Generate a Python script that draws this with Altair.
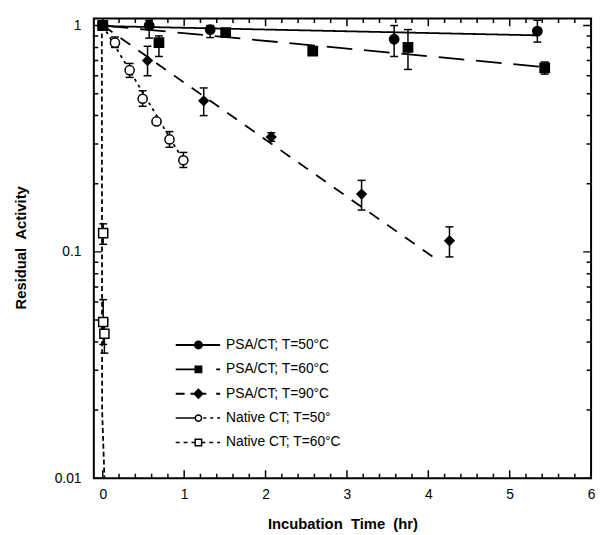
import altair as alt
import pandas as pd

# ---------------- data ----------------
series = ["PSA/CT; T=50°C", "PSA/CT; T=60°C", "PSA/CT; T=90°C",
          "Native CT; T=50°", "Native CT; T=60°C"]

psa50_t = [0.0, 0.57, 1.32, 3.58, 5.34]
psa50_a = [1.0, 1.0, 0.96, 0.87, 0.945]
psa50_lo = [None, 0.88, 0.885, 0.73, 0.845]
psa50_hi = [None, 1.055, 1.0, 1.0, 1.055]

psa60_t = [0.0, 0.69, 1.51, 2.58, 3.75, 5.43]
psa60_a = [1.0, 0.84, 0.93, 0.77, 0.80, 0.65]
psa60_lo = [None, 0.73, None, None, 0.64, 0.61]
psa60_hi = [None, 0.90, None, None, 0.96, 0.69]

psa90_t = [0.0, 0.55, 1.24, 2.07, 3.18, 4.26]
psa90_a = [1.0, 0.70, 0.465, 0.322, 0.18, 0.112]
psa90_lo = [None, 0.60, 0.40, 0.308, 0.153, 0.095]
psa90_hi = [None, 0.81, 0.53, 0.336, 0.207, 0.129]

nat50_t = [0.0, 0.15, 0.33, 0.49, 0.66, 0.82, 0.99]
nat50_a = [1.0, 0.84, 0.635, 0.475, 0.377, 0.314, 0.254]
nat50_lo = [None, 0.80, 0.59, 0.44, None, 0.29, 0.236]
nat50_hi = [None, 0.89, 0.68, 0.515, None, 0.34, 0.275]

nat60_t = [0.0, 0.005, 0.005, 0.02]
nat60_a = [1.0, 0.121, 0.049, 0.0435]
nat60_lo = [None, 0.108, 0.039, 0.0357]
nat60_hi = [None, 0.133, 0.0615, 0.05]

# fitted decay curves
fit_psa50_t = [0.0, 5.34]
fit_psa50_a = [0.995, 0.905]
fit_psa60_t = [0.0, 5.43]
fit_psa60_a = [1.0, 0.655]
fit_psa90_t = [0.0, 4.15]
fit_psa90_a = [1.0, 0.09]
fit_nat50_t = [0.0, 1.0]
fit_nat50_a = [1.0, 0.25]
fit_nat60_t = [-0.012, -0.008, 0.02]
fit_nat60_a = [1.0, 0.02, 0.0101]

# axis ranges and tick lists
x_range = [-0.11, 6]
y_range = [0.01, 1.075]
x_major = [0, 1, 2, 3, 4, 5, 6]
x_minor = [0.2, 0.4, 0.6, 0.8, 1.2, 1.4, 1.6, 1.8, 2.2, 2.4, 2.6, 2.8,
           3.2, 3.4, 3.6, 3.8, 4.2, 4.4, 4.6, 4.8, 5.2, 5.4, 5.6, 5.8]
y_major = [0.01, 0.1, 1]
y_minor = [0.02, 0.03, 0.04, 0.05, 0.06, 0.07, 0.08, 0.09,
           0.2, 0.3, 0.4, 0.5, 0.6, 0.7, 0.8, 0.9]

# ---------------- styles ----------------
dashes = [[1, 0], [26, 12], [12, 10], [3, 4], [5, 3]]
marker_shapes = ["circle", "square", "diamond", "circle", "square"]
marker_fills = ["black", "black", "black", "white", "white"]
marker_sizes = [90, 85, 120, 50, 50]
tick_sizes = [16, 9]

# legend glyphs: line + marker drawn as filled outlines (open markers as rings)
legend_paths = [
    "M-4.6,-0.2H4.4V0.2H-4.6Z"
    "M-0.9,0A0.9,0.9,0,1,1,0.9,0A0.9,0.9,0,1,1,-0.9,0Z",
    "M-4.6,-0.2H0V0.2H-4.6Z"
    "M-0.8,-0.8H0.8V0.8H-0.8Z"
    "M3.6,-0.2H4.4V0.2H3.6Z",
    "M-4.6,-0.2H-2.8V0.2H-4.6Z"
    "M-1.6,-0.2H1.6V0.2H-1.6Z"
    "M3.6,-0.2H4.4V0.2H3.6Z"
    "M-1.1,0L0,-1.1L1.1,0L0,1.1Z",
    "M-4.6,-0.15H-0.75V0.15H-4.6Z"
    "M-0.8,0A0.8,0.8,0,1,1,0.8,0A0.8,0.8,0,1,1,-0.8,0Z"
    "M-0.5,0A0.5,0.5,0,1,0,0.5,0A0.5,0.5,0,1,0,-0.5,0Z"
    "M1.0,-0.15H1.6V0.15H1.0Z"
    "M2.4,-0.15H3.0V0.15H2.4Z"
    "M3.8,-0.15H4.4V0.15H3.8Z",
    "M-4.6,-0.15H-3.8V0.15H-4.6Z"
    "M-3.0,-0.15H-2.2V0.15H-3.0Z"
    "M-1.4,-0.15H-0.8V0.15H-1.4Z"
    "M-0.8,-0.8H0.8V0.8H-0.8Z"
    "M-0.5,-0.5V0.5H0.5V-0.5Z"
    "M0.8,-0.15H1.4V0.15H0.8Z"
    "M2.2,-0.15H3.0V0.15H2.2Z"
    "M3.8,-0.15H4.4V0.15H3.8Z",
]

# ---------------- tables ----------------
pts_src = [
    (series[3], nat50_t, nat50_a, nat50_lo, nat50_hi),
    (series[4], nat60_t, nat60_a, nat60_lo, nat60_hi),
    (series[0], psa50_t, psa50_a, psa50_lo, psa50_hi),
    (series[1], psa60_t, psa60_a, psa60_lo, psa60_hi),
    (series[2], psa90_t, psa90_a, psa90_lo, psa90_hi),
]
rows = []
for name, ts, as_, los, his in pts_src:
    for t, a, lo, hi in zip(ts, as_, los, his):
        rows.append({"series": name, "t": t, "a": a, "lo": lo, "hi": hi})
pts = pd.DataFrame(rows)

fit_src = [
    (series[0], fit_psa50_t, fit_psa50_a),
    (series[1], fit_psa60_t, fit_psa60_a),
    (series[2], fit_psa90_t, fit_psa90_a),
    (series[3], fit_nat50_t, fit_nat50_a),
    (series[4], fit_nat60_t, fit_nat60_a),
]
frows = []
for name, ts, as_ in fit_src:
    for k, (t, a) in enumerate(zip(ts, as_)):
        frows.append({"series": name, "t": t, "a": a, "k": k})
fits = pd.DataFrame(frows)

legend_df = pts[pts["t"] == 0.0].copy()

# tick marks on all four sides of the frame (half of each is clipped away)
xt_rows = []
for kind, vals in (("major", x_major), ("minor", x_minor)):
    for v in vals:
        for edge in y_range:
            xt_rows.append({"v": v, "edge": edge, "kind": kind})
xticks_df = pd.DataFrame(xt_rows)
yt_rows = []
for kind, vals in (("major", y_major), ("minor", y_minor)):
    for v in vals:
        for edge in x_range:
            yt_rows.append({"v": v, "edge": edge, "kind": kind})
yticks_df = pd.DataFrame(yt_rows)

# ---------------- scales / axes ----------------
xs = alt.Scale(domain=x_range, nice=False, zero=False)
ys = alt.Scale(type="log", domain=y_range, nice=False)
tsz = alt.Scale(domain=["major", "minor"], range=tick_sizes)

x_main_axis = alt.Axis(orient="bottom", values=x_major, domain=False, grid=False,
                       ticks=False, labelPadding=10, labelFlush=False,
                       labelOverlap=False, format="d",
                       title="Incubation\u00a0\u00a0Time\u00a0\u00a0(hr)",
                       titleY=46, titleBaseline="middle")
y_main_axis = alt.Axis(orient="left", values=y_major, domain=False, grid=False,
                       ticks=False, labelPadding=13, labelOverlap=False, format="~g",
                       title="Residual\u00a0\u00a0Activity",
                       titleX=-74, titleY=232, titleAngle=270,
                       titleBaseline="middle", titleAlign="center")

lines = alt.Chart(fits).mark_line(strokeWidth=1.8, color="black", clip=True).encode(
    x=alt.X("t:Q", scale=xs, axis=x_main_axis),
    y=alt.Y("a:Q", scale=ys, axis=y_main_axis),
    strokeDash=alt.StrokeDash("series:N", scale=alt.Scale(domain=series, range=dashes),
                              legend=None),
    order="k:Q",
)

xticks = alt.Chart(xticks_df).mark_tick(orient="vertical", thickness=1.5,
                                         color="black", clip=True, opacity=1).encode(
    x=alt.X("v:Q", scale=xs, axis=None),
    y=alt.Y("edge:Q", scale=ys, axis=None),
    size=alt.Size("kind:N", scale=tsz, legend=None),
)

yticks = alt.Chart(yticks_df).mark_tick(orient="horizontal", thickness=1.5,
                                         color="black", clip=True, opacity=1).encode(
    x=alt.X("edge:Q", scale=xs, axis=None),
    y=alt.Y("v:Q", scale=ys, axis=None),
    size=alt.Size("kind:N", scale=tsz, legend=None),
)

bars = alt.Chart(pts).transform_filter("isValid(datum.lo)").mark_rule(
    strokeWidth=1.5, color="black").encode(
    x=alt.X("t:Q", scale=xs, axis=None),
    y=alt.Y("lo:Q", scale=ys, axis=None),
    y2="hi:Q",
)

caps = alt.Chart(pts).transform_fold(["lo", "hi"], as_=["end", "v"]).transform_filter(
    "isValid(datum.v)").mark_tick(orient="horizontal", size=8, thickness=1.5,
                                  color="black", opacity=1).encode(
    x=alt.X("t:Q", scale=xs, axis=None),
    y=alt.Y("v:Q", scale=ys, axis=None),
)

points = alt.Chart(pts).mark_point(stroke="black", strokeWidth=1.5, opacity=1,
                                   fillOpacity=1).encode(
    x=alt.X("t:Q", scale=xs, axis=None),
    y=alt.Y("a:Q", scale=ys, axis=None),
    shape=alt.Shape("series:N", scale=alt.Scale(domain=series, range=marker_shapes),
                    legend=None),
    fill=alt.Fill("series:N", scale=alt.Scale(domain=series, range=marker_fills),
                  legend=None),
    size=alt.Size("series:N", scale=alt.Scale(domain=series, range=marker_sizes),
                  legend=None),
)

leg = alt.Legend(orient="none", legendX=99, legendY=324, title=None, padding=0,
                 symbolSize=100, symbolFillColor="black", symbolStrokeWidth=0,
                 symbolOpacity=1, labelOffset=21, rowPadding=10.7,
                 labelFontSize=14, labelFont="Liberation Sans", labelColor="black",
                 labelBaseline="middle", labelLimit=300)

legend_layer = alt.Chart(legend_df).mark_point(
    opacity=0, filled=True, color="black").encode(
    x=alt.X("t:Q", scale=xs, axis=None),
    y=alt.Y("a:Q", scale=ys, axis=None),
    shape=alt.Shape("series:N", scale=alt.Scale(domain=series, range=legend_paths),
                    legend=leg),
)

chart = alt.layer(lines, xticks, yticks, bars, caps, points, legend_layer).resolve_axis(
    x="independent", y="independent"
).resolve_scale(
    shape="independent", size="independent"
).properties(
    width=504, height=466,
    autosize=alt.AutoSizeParams(type="none"),
    padding={"left": 87, "top": 7, "right": 6, "bottom": 54},
).configure(
    background="white",
).configure_view(
    stroke="black", strokeWidth=2, fill="white",
).configure_axis(
    labelFont="Liberation Sans", labelFontSize=14, labelColor="black",
    titleFont="Liberation Sans", titleFontSize=15, titleFontWeight="bold",
    titleColor="black",
)

chart.save("out.html", embed_options={"renderer": "svg", "actions": False})
